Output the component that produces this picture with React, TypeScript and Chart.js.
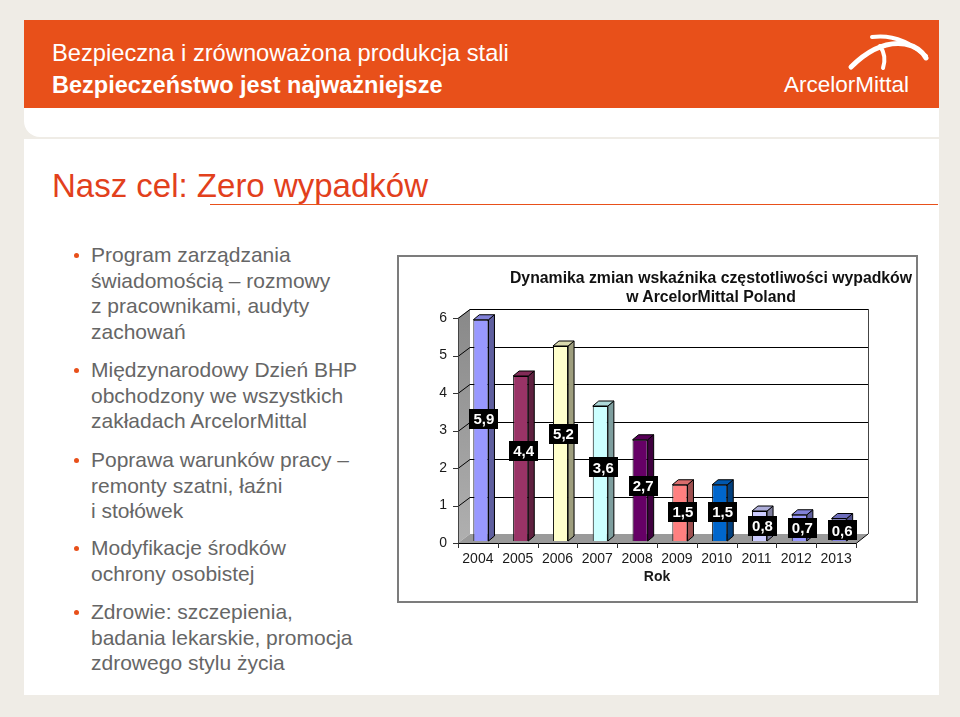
import React, { useEffect, useRef } from 'react';
import { Chart, registerables } from 'chart.js';

Chart.register(...registerables);

// ---- chart data ----
const years: string[] = ['2004', '2005', '2006', '2007', '2008', '2009', '2010', '2011', '2012', '2013'];
const rates: number[] = [5.9, 4.4, 5.2, 3.6, 2.7, 1.5, 1.5, 0.8, 0.7, 0.6];
const barColors: string[] = ['#9999ff', '#993366', '#ffffcc', '#ccffff', '#660066', '#ff8080', '#0066cc', '#ccccff', '#9999ff', '#8080dd'];
const yMin = 0;
const yMax = 6;
const yStep = 1;
const chartTitle: string[] = ['Dynamika zmian wskaźnika częstotliwości wypadków', 'w ArcelorMittal Poland'];
const xAxisTitle = 'Rok';

// ---- slide text ----
const headerLine1 = 'Bezpieczna i zrównoważona produkcja stali';
const headerLine2 = 'Bezpieczeństwo jest najważniejsze';
const slideTitle = 'Nasz cel: Zero wypadków';
const bullets: string[][] = [
  ['Program zarządzania', 'świadomością – rozmowy', 'z pracownikami, audyty', 'zachowań'],
  ['Międzynarodowy Dzień BHP', 'obchodzony we wszystkich', 'zakładach ArcelorMittal'],
  ['Poprawa warunków pracy –', 'remonty szatni, łaźni', 'i stołówek'],
  ['Modyfikacje środków', 'ochrony osobistej'],
  ['Zdrowie: szczepienia,', 'badania lekarskie, promocja', 'zdrowego stylu życia'],
];

const FONT = '"Liberation Sans", Arial, Helvetica, sans-serif';
const ORANGE = '#e8501a';

function shade(hex: string, f: number): string {
  const n = parseInt(hex.slice(1), 16);
  let r = (n >> 16) & 255, g = (n >> 8) & 255, b = n & 255;
  if (f < 1) {
    r = Math.round(r * f); g = Math.round(g * f); b = Math.round(b * f);
  } else {
    const t = f - 1;
    r = Math.round(r + (255 - r) * t); g = Math.round(g + (255 - g) * t); b = Math.round(b + (255 - b) * t);
  }
  return `rgb(${r},${g},${b})`;
}

const WDX = 12, WDY = -9; // wall depth
const BDX = 6, BDY = -5; // bar depth
const SHIFT_X = 3, SHIFT_Y = -2; // bars sit in the middle of the floor depth

function poly(ctx: CanvasRenderingContext2D, pts: number[][], fill?: string | CanvasGradient, stroke?: string) {
  ctx.beginPath();
  ctx.moveTo(pts[0][0], pts[0][1]);
  for (let i = 1; i < pts.length; i++) ctx.lineTo(pts[i][0], pts[i][1]);
  ctx.closePath();
  if (fill) { ctx.fillStyle = fill; ctx.fill(); }
  if (stroke) { ctx.strokeStyle = stroke; ctx.stroke(); }
}

function line(ctx: CanvasRenderingContext2D, pts: number[][]) {
  ctx.beginPath();
  ctx.moveTo(pts[0][0], pts[0][1]);
  for (let i = 1; i < pts.length; i++) ctx.lineTo(pts[i][0], pts[i][1]);
  ctx.stroke();
}

const threeD = {
  id: 'threeD',
  beforeDatasetsDraw(chart: any) {
    const { ctx, chartArea } = chart;
    const { left: L, right: R, top: T, bottom: B } = chartArea;
    const yS = chart.scales.y;
    ctx.save();
    ctx.lineWidth = 1;
    const g = ctx.createLinearGradient(0, T, 0, B);
    g.addColorStop(0, '#8a8a8a');
    g.addColorStop(1, '#b0b0b0');
    poly(ctx, [[L, T], [L + WDX, T + WDY], [L + WDX, B + WDY], [L, B]], g);
    poly(ctx, [[L, B], [L + WDX, B + WDY], [R + WDX, B + WDY], [R, B]], '#9a9a9a');
    ctx.strokeStyle = '#000';
    yS.ticks.forEach((t: any) => {
      const yy = Math.round(yS.getPixelForValue(t.value)) + 0.5;
      if (t.value > yMin) line(ctx, [[L, yy], [L + WDX, yy + WDY], [R + WDX, yy + WDY]]);
      ctx.strokeStyle = '#333';
      line(ctx, [[L - 5, yy], [L, yy]]);
      ctx.strokeStyle = '#000';
    });
    ctx.strokeStyle = '#444';
    line(ctx, [[R + WDX + 0.5, T + WDY], [R + WDX + 0.5, B + WDY]]);
    line(ctx, [[L + 0.5, T], [L + 0.5, B]]);
    ctx.strokeStyle = '#000';
    line(ctx, [[L, B + 0.5], [R, B + 0.5], [R + WDX, B + WDY]]);
    const n = years.length;
    ctx.strokeStyle = '#333';
    for (let i = 0; i <= n; i++) {
      const xx = Math.round(L + (i * (R - L)) / n) + 0.5;
      line(ctx, [[xx, B], [xx, B + 5]]);
    }
    ctx.restore();
  },
  beforeDatasetDraw(chart: any) {
    chart.ctx.save();
    chart.ctx.translate(SHIFT_X, SHIFT_Y);
  },
  afterDatasetDraw(chart: any) {
    chart.ctx.restore();
  },
  afterDatasetsDraw(chart: any) {
    const { ctx } = chart;
    const yS = chart.scales.y;
    const meta = chart.getDatasetMeta(0);
    ctx.save();
    ctx.translate(SHIFT_X, SHIFT_Y);
    ctx.lineWidth = 1;
    meta.data.forEach((bar: any, i: number) => {
      const { x, y: top, base, width } = bar.getProps(['x', 'y', 'base', 'width'], true);
      const l = x - width / 2, r = x + width / 2;
      const c = barColors[i];
      poly(ctx, [[r, top], [r + BDX, top + BDY], [r + BDX, base + BDY], [r, base]], shade(c, 0.62), '#000');
      poly(ctx, [[l, top], [l + BDX, top + BDY], [r + BDX, top + BDY], [r, top]], shade(c, 0.85), '#000');
    });
    ctx.restore();
    ctx.save();
    ctx.font = `bold 15px ${FONT}`;
    ctx.textAlign = 'center';
    ctx.textBaseline = 'middle';
    meta.data.forEach((bar: any, i: number) => {
      const v = rates[i];
      const txt = v.toFixed(1).replace('.', ',');
      const cx = bar.x + 6;
      const cy = yS.getPixelForValue(v * 0.56);
      const w = ctx.measureText(txt).width + 8;
      const h = 20;
      ctx.fillStyle = '#000';
      ctx.fillRect(Math.round(cx - w / 2), Math.round(cy - h / 2), Math.round(w), h);
      ctx.fillStyle = '#fff';
      ctx.fillText(txt, cx, cy + 1);
    });
    ctx.restore();
  },
};

function AccidentChart() {
  const ref = useRef<HTMLCanvasElement | null>(null);
  useEffect(() => {
    if (!ref.current) return;
    const chart = new Chart(ref.current, {
      type: 'bar',
      data: {
        labels: years,
        datasets: [
          {
            data: rates,
            backgroundColor: barColors,
            borderColor: '#000',
            borderWidth: 1,
            barPercentage: 0.38,
            categoryPercentage: 1,
            clip: false as any,
          },
        ],
      },
      options: {
        responsive: false,
        animation: false,
        layout: { padding: { left: 0, top: 61, right: 60, bottom: 0 } },
        plugins: { legend: { display: false }, tooltip: { enabled: false }, title: { display: false } },
        scales: {
          x: {
            grid: { display: false, drawTicks: false },
            border: { display: false },
            ticks: { font: { size: 14, family: FONT }, color: '#1a1a1a', padding: 8, maxRotation: 0 },
            title: {
              display: true,
              text: xAxisTitle,
              font: { size: 14, weight: 'bold', family: FONT },
              color: '#1a1a1a',
              padding: { top: 0, bottom: 15 },
            },
            afterFit(s: any) { s.height = 58; },
          },
          y: {
            min: yMin,
            max: yMax,
            grid: { display: false, drawTicks: false },
            border: { display: false },
            ticks: { stepSize: yStep, font: { size: 14, family: FONT }, color: '#1a1a1a', padding: 11 },
            afterFit(s: any) { s.width = 59; },
          },
        },
      },
      plugins: [threeD],
    });
    return () => chart.destroy();
  }, []);
  return <canvas ref={ref} width={517} height={344} style={{ position: 'absolute', left: 0, top: 0, width: 517, height: 344 }} />;
}

export default function App() {
  const bulletTops = [242, 357, 447, 535, 599];
  return (
    <div style={{ position: 'fixed', left: 0, top: 0, width: 960, height: 717, background: '#efece6', fontFamily: FONT, overflow: 'hidden' }}>
      {/* white slide panels */}
      <div style={{ position: 'absolute', left: 24, top: 100, width: 915, height: 37, background: '#fff', borderBottomLeftRadius: 16 }} />
      <div style={{ position: 'absolute', left: 24, top: 139, width: 915, height: 556, background: '#fff' }} />
      {/* header */}
      <div style={{ position: 'absolute', left: 24, top: 20, width: 915, height: 88, background: ORANGE }} />
      <div style={{ position: 'absolute', left: 52, top: 39, color: '#fff', fontSize: 23.7, lineHeight: '28px', whiteSpace: 'nowrap' }}>{headerLine1}</div>
      <div style={{ position: 'absolute', left: 52, top: 71, color: '#fff', fontSize: 23.5, lineHeight: '28px', fontWeight: 'bold', whiteSpace: 'nowrap' }}>{headerLine2}</div>
      <svg style={{ position: 'absolute', left: 0, top: 0 }} width={960} height={120}>
        <path d="M 851 67 Q 878 40 905 44 Q 920 47 926 58" stroke="#fff" strokeWidth={5} fill="none" strokeLinecap="round" />
        <path d="M 872 37 Q 900 33 926 56" stroke="#fff" strokeWidth={4} fill="none" strokeLinecap="round" />
        <path d="M 880 46 Q 887 56 883 68" stroke="#fff" strokeWidth={4} fill="none" strokeLinecap="round" />
      </svg>
      <div style={{ position: 'absolute', left: 784, top: 72, color: '#fff', fontSize: 22.5, lineHeight: '26px', whiteSpace: 'nowrap' }}>ArcelorMittal</div>
      {/* slide title */}
      <div style={{ position: 'absolute', left: 52, top: 166, color: '#e2401c', fontSize: 33, lineHeight: '40px', whiteSpace: 'nowrap' }}>{slideTitle}</div>
      <div style={{ position: 'absolute', left: 210, top: 204, width: 728, height: 1, background: ORANGE }} />
      {/* bullets */}
      {bullets.map((lines, i) => (
        <div key={i} style={{ position: 'absolute', left: 91, top: bulletTops[i], color: '#666', fontSize: 21, lineHeight: '25.5px', whiteSpace: 'nowrap' }}>
          <div style={{ position: 'absolute', left: -17, top: 11, width: 5, height: 5, borderRadius: 3, background: ORANGE }} />
          {lines.map((t, j) => (
            <div key={j}>{t}</div>
          ))}
        </div>
      ))}
      {/* chart box */}
      <div style={{ position: 'absolute', left: 397, top: 255, width: 521, height: 348, boxSizing: 'border-box', border: '2px solid #7c7c7c', background: '#fff' }}>
        <AccidentChart />
        <div style={{ position: 'absolute', left: 12, top: 10.5, width: 600, textAlign: 'center', fontWeight: 'bold', fontSize: 15.8, lineHeight: '19px', color: '#111', whiteSpace: 'nowrap' }}>
          {chartTitle.map((t, i) => (
            <div key={i}>{t}</div>
          ))}
        </div>
      </div>
    </div>
  );
}
